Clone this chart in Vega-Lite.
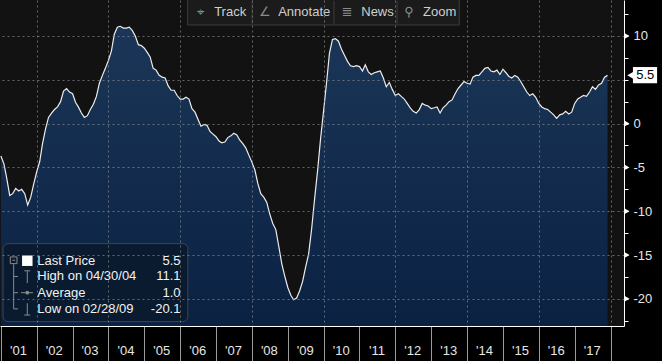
{
"$schema":"https://vega.github.io/schema/vega-lite/v6.json",
"width":624,"height":326,
"autosize":{"type":"none"},
"padding":{"left":0,"top":0,"right":38,"bottom":35},
"background":"#000000",
"config":{"view":{"fill":"#121212","stroke":null},"font":"Liberation Sans"},
"data":{"values":[
{"d":"2001-01","v":-3.7},{"d":"2001-02","v":-4.6},{"d":"2001-03","v":-6.2},{"d":"2001-04","v":-8.2},{"d":"2001-05","v":-8.0},{"d":"2001-06","v":-7.4},{"d":"2001-07","v":-7.7},{"d":"2001-08","v":-7.5},{"d":"2001-09","v":-8.0},{"d":"2001-10","v":-9.3},{"d":"2001-11","v":-8.4},{"d":"2001-12","v":-6.9},
{"d":"2002-01","v":-5.5},{"d":"2002-02","v":-4.3},{"d":"2002-03","v":-2.3},{"d":"2002-04","v":-0.6},{"d":"2002-05","v":0.7},{"d":"2002-06","v":1.2},{"d":"2002-07","v":1.6},{"d":"2002-08","v":1.9},{"d":"2002-09","v":2.5},{"d":"2002-10","v":3.7},{"d":"2002-11","v":4.0},{"d":"2002-12","v":3.6},
{"d":"2003-01","v":3.4},{"d":"2003-02","v":2.4},{"d":"2003-03","v":1.9},{"d":"2003-04","v":1.2},{"d":"2003-05","v":0.7},{"d":"2003-06","v":0.9},{"d":"2003-07","v":1.6},{"d":"2003-08","v":2.2},{"d":"2003-09","v":3.1},{"d":"2003-10","v":4.6},{"d":"2003-11","v":5.5},{"d":"2003-12","v":6.3},
{"d":"2004-01","v":7.2},{"d":"2004-02","v":8.3},{"d":"2004-03","v":10.2},{"d":"2004-04","v":11.0},{"d":"2004-05","v":11.1},{"d":"2004-06","v":10.9},{"d":"2004-07","v":10.9},{"d":"2004-08","v":11.0},{"d":"2004-09","v":10.6},{"d":"2004-10","v":10.0},{"d":"2004-11","v":9.0},{"d":"2004-12","v":8.9},
{"d":"2005-01","v":8.6},{"d":"2005-02","v":8.1},{"d":"2005-03","v":7.6},{"d":"2005-04","v":6.3},{"d":"2005-05","v":6.1},{"d":"2005-06","v":5.5},{"d":"2005-07","v":5.3},{"d":"2005-08","v":5.2},{"d":"2005-09","v":4.3},{"d":"2005-10","v":3.8},{"d":"2005-11","v":3.8},{"d":"2005-12","v":3.2},
{"d":"2006-01","v":2.8},{"d":"2006-02","v":2.8},{"d":"2006-03","v":3.0},{"d":"2006-04","v":2.8},{"d":"2006-05","v":1.7},{"d":"2006-06","v":1.3},{"d":"2006-07","v":0.5},{"d":"2006-08","v":-0.3},{"d":"2006-09","v":-0.1},{"d":"2006-10","v":-0.2},{"d":"2006-11","v":-0.9},{"d":"2006-12","v":-1.2},
{"d":"2007-01","v":-1.5},{"d":"2007-02","v":-2.0},{"d":"2007-03","v":-2.2},{"d":"2007-04","v":-2.1},{"d":"2007-05","v":-1.6},{"d":"2007-06","v":-1.4},{"d":"2007-07","v":-1.1},{"d":"2007-08","v":-1.3},{"d":"2007-09","v":-1.9},{"d":"2007-10","v":-2.3},{"d":"2007-11","v":-2.8},{"d":"2007-12","v":-3.6},
{"d":"2008-01","v":-4.4},{"d":"2008-02","v":-5.3},{"d":"2008-03","v":-6.8},{"d":"2008-04","v":-8.0},{"d":"2008-05","v":-8.4},{"d":"2008-06","v":-9.0},{"d":"2008-07","v":-10.3},{"d":"2008-08","v":-11.4},{"d":"2008-09","v":-12.1},{"d":"2008-10","v":-14.0},{"d":"2008-11","v":-16.0},{"d":"2008-12","v":-17.4},
{"d":"2009-01","v":-18.7},{"d":"2009-02","v":-19.6},{"d":"2009-03","v":-20.1},{"d":"2009-04","v":-19.9},{"d":"2009-05","v":-19.1},{"d":"2009-06","v":-18.0},{"d":"2009-07","v":-16.4},{"d":"2009-08","v":-14.9},{"d":"2009-09","v":-12.0},{"d":"2009-10","v":-8.6},{"d":"2009-11","v":-5.3},{"d":"2009-12","v":-1.7},
{"d":"2010-01","v":1.5},{"d":"2010-02","v":4.8},{"d":"2010-03","v":8.0},{"d":"2010-04","v":9.6},{"d":"2010-05","v":9.7},{"d":"2010-06","v":9.4},{"d":"2010-07","v":8.5},{"d":"2010-08","v":7.8},{"d":"2010-09","v":7.1},{"d":"2010-10","v":6.6},{"d":"2010-11","v":6.5},{"d":"2010-12","v":6.6},
{"d":"2011-01","v":6.5},{"d":"2011-02","v":6.0},{"d":"2011-03","v":6.7},{"d":"2011-04","v":5.9},{"d":"2011-05","v":5.6},{"d":"2011-06","v":5.8},{"d":"2011-07","v":5.9},{"d":"2011-08","v":6.0},{"d":"2011-09","v":5.2},{"d":"2011-10","v":4.2},{"d":"2011-11","v":4.7},{"d":"2011-12","v":3.9},
{"d":"2012-01","v":3.2},{"d":"2012-02","v":3.4},{"d":"2012-03","v":3.1},{"d":"2012-04","v":2.8},{"d":"2012-05","v":2.3},{"d":"2012-06","v":1.8},{"d":"2012-07","v":1.4},{"d":"2012-08","v":1.2},{"d":"2012-09","v":1.6},{"d":"2012-10","v":2.3},{"d":"2012-11","v":2.1},{"d":"2012-12","v":2.0},
{"d":"2013-01","v":1.7},{"d":"2013-02","v":1.8},{"d":"2013-03","v":1.9},{"d":"2013-04","v":1.2},{"d":"2013-05","v":1.8},{"d":"2013-06","v":2.1},{"d":"2013-07","v":2.5},{"d":"2013-08","v":2.7},{"d":"2013-09","v":3.4},{"d":"2013-10","v":4.0},{"d":"2013-11","v":4.4},{"d":"2013-12","v":4.8},
{"d":"2014-01","v":4.6},{"d":"2014-02","v":4.5},{"d":"2014-03","v":5.3},{"d":"2014-04","v":5.5},{"d":"2014-05","v":5.5},{"d":"2014-06","v":5.9},{"d":"2014-07","v":6.3},{"d":"2014-08","v":6.4},{"d":"2014-09","v":6.0},{"d":"2014-10","v":5.9},{"d":"2014-11","v":6.1},{"d":"2014-12","v":5.6},
{"d":"2015-01","v":6.2},{"d":"2015-02","v":5.8},{"d":"2015-03","v":5.4},{"d":"2015-04","v":5.2},{"d":"2015-05","v":5.5},{"d":"2015-06","v":5.3},{"d":"2015-07","v":4.8},{"d":"2015-08","v":4.2},{"d":"2015-09","v":3.6},{"d":"2015-10","v":3.2},{"d":"2015-11","v":3.4},{"d":"2015-12","v":3.0},
{"d":"2016-01","v":2.3},{"d":"2016-02","v":1.9},{"d":"2016-03","v":1.7},{"d":"2016-04","v":1.6},{"d":"2016-05","v":1.3},{"d":"2016-06","v":1.0},{"d":"2016-07","v":0.6},{"d":"2016-08","v":1.0},{"d":"2016-09","v":1.1},{"d":"2016-10","v":1.4},{"d":"2016-11","v":1.1},{"d":"2016-12","v":1.3},
{"d":"2017-01","v":2.3},{"d":"2017-02","v":2.8},{"d":"2017-03","v":3.0},{"d":"2017-04","v":3.2},{"d":"2017-05","v":3.1},{"d":"2017-06","v":3.6},{"d":"2017-07","v":4.2},{"d":"2017-08","v":3.9},{"d":"2017-09","v":4.4},{"d":"2017-10","v":4.6},{"d":"2017-11","v":5.3},{"d":"2017-12","v":5.5}
]},
"layer":[
{"mark":{"type":"area","color":{"gradient":"linear","x1":0,"y1":0,"x2":0,"y2":1,"stops":[{"offset":0,"color":"#1b3658"},{"offset":1,"color":"#0a2142"}]}},
 "encoding":{
  "x":{"field":"d","type":"temporal","scale":{"type":"utc","domain":[{"year":2000,"month":12,"date":23,"utc":true},{"year":2018,"month":5,"date":18,"utc":true}]},
   "axis":{"orient":"bottom","title":null,"tickCount":100,"values":[{"year":2001,"month":1,"date":1,"utc":true},{"year":2002,"month":1,"date":1,"utc":true},{"year":2003,"month":1,"date":1,"utc":true},{"year":2004,"month":1,"date":1,"utc":true},{"year":2005,"month":1,"date":1,"utc":true},{"year":2006,"month":1,"date":1,"utc":true},{"year":2007,"month":1,"date":1,"utc":true},{"year":2008,"month":1,"date":1,"utc":true},{"year":2009,"month":1,"date":1,"utc":true},{"year":2010,"month":1,"date":1,"utc":true},{"year":2011,"month":1,"date":1,"utc":true},{"year":2012,"month":1,"date":1,"utc":true},{"year":2013,"month":1,"date":1,"utc":true},{"year":2014,"month":1,"date":1,"utc":true},{"year":2015,"month":1,"date":1,"utc":true},{"year":2016,"month":1,"date":1,"utc":true},{"year":2017,"month":1,"date":1,"utc":true},{"year":2018,"month":1,"date":1,"utc":true}],
    "labelExpr":"utcyear(datum.value) < 2018 ? utcFormat(datum.value, \"'%y\") : ''",
    "labelOffset":17,"labelPadding":-17,"labelFlush":false,"labelOverlap":false,"labelBound":false,
    "tickSize":35,"tickColor":"#9a9a9a","domainColor":"#ffffff","labelColor":"#e6e6e6","labelFontSize":13,
    "grid":true,"gridColor":"#8a8a8a","gridDash":[2,3],"gridOpacity":{"condition":{"test":"utcyear(datum.value) % 2 == 0","value":0.7},"value":0},"zindex":1}},
  "y":{"field":"v","type":"quantitative","scale":{"domain":[-23.1,14.1],"nice":false,"zero":false},
   "axis":{"orient":"right","title":null,"tickCount":100,"values":[-22.5,-20,-17.5,-15,-12.5,-10,-7.5,-5,-2.5,0,2.5,5,7.5,10,12.5],
    "labelExpr":"datum.value % 5 == 0 && datum.value != 5 ? '' + datum.value : ''",
    "domainColor":"#ffffff","tickColor":"#ffffff","tickSize":4,"labelPadding":5,"labelColor":"#e6e6e6","labelFontSize":13,
    "grid":true,"gridColor":"#8a8a8a","gridDash":[2,3],"gridOpacity":{"condition":{"test":"datum.value % 5 == 0","value":0.7},"value":0},"zindex":1}},
  "y2":{"datum":-23.1}}},
{"mark":{"type":"line","color":"#ececec","strokeWidth":1.2},
 "encoding":{"x":{"field":"d","type":"temporal"},"y":{"field":"v","type":"quantitative"}}},
{"data":{"values":[{"v":-20},{"v":-15},{"v":-10},{"v":-5},{"v":0},{"v":10}]},
 "mark":{"type":"point","shape":"triangle-right","filled":true,"color":"#ffffff","size":30,"opacity":1},
 "encoding":{"x":{"datum":{"year":2018,"month":6,"date":19,"utc":true},"type":"temporal"},"y":{"field":"v","type":"quantitative"}}},
{"data":{"values":[{"a":"2018-08-17","b":"2019-04-20","y":6.45,"y2":4.6}]},
 "mark":{"type":"rect","color":"#ffffff"},
 "encoding":{"x":{"field":"a","type":"temporal"},"x2":{"field":"b"},"y":{"field":"y","type":"quantitative"},"y2":{"field":"y2"}}},
{"data":{"values":[{"v":5.5}]},
 "mark":{"type":"point","shape":"triangle-left","filled":true,"color":"#ffffff","size":45,"opacity":1},
 "encoding":{"x":{"datum":{"year":2018,"month":7,"date":20,"utc":true},"type":"temporal"},"y":{"field":"v","type":"quantitative"}}},
{"data":{"values":[{"v":5.5,"t":"5.5"}]},
 "mark":{"type":"text","color":"#000000","fontSize":13,"align":"center","baseline":"middle"},
 "encoding":{"x":{"datum":{"year":2018,"month":12,"date":20,"utc":true},"type":"temporal"},"y":{"field":"v","type":"quantitative"},"text":{"field":"t"}}},
{"data":{"values":[{"a":"2001-01-23","b":"2006-03-20","y":-13.7,"y2":-22.6}]},
 "mark":{"type":"rect","fill":"#0b1a2b","fillOpacity":0.85,"stroke":"#3a4654","strokeWidth":1,"cornerRadius":5},
 "encoding":{"x":{"field":"a","type":"temporal"},"x2":{"field":"b"},"y":{"field":"y","type":"quantitative"},"y2":{"field":"y2"}}},
{"data":{"values":[
  {"a":"2001-05-11","b":"2001-05-11","y":-16.05,"y2":-21.15},
  {"a":"2001-05-11","b":"2001-06-24","y":-17.45,"y2":-17.45},
  {"a":"2001-05-11","b":"2001-06-24","y":-19.3,"y2":-19.3},
  {"a":"2001-05-11","b":"2001-06-24","y":-21.15,"y2":-21.15},
  {"a":"2001-08-27","b":"2001-10-27","y":-16.8,"y2":-16.8},
  {"a":"2001-09-27","b":"2001-09-27","y":-16.8,"y2":-18.2},
  {"a":"2001-09-27","b":"2001-09-27","y":-20.5,"y2":-21.85},
  {"a":"2001-08-27","b":"2001-10-27","y":-21.85,"y2":-21.85},
  {"a":"2001-07-24","b":"2001-11-24","y":-19.3,"y2":-19.3},
  {"a":"2001-04-28","b":"2001-05-25","y":-15.6,"y2":-15.6}]},
 "mark":{"type":"rule","color":"#8a8a8a","strokeWidth":1},
 "encoding":{"x":{"field":"a","type":"temporal"},"x2":{"field":"b"},"y":{"field":"y","type":"quantitative"},"y2":{"field":"y2"}}},
{"data":{"values":[{"v":-15.6}]},
 "mark":{"type":"point","shape":"square","filled":false,"color":"#8a8a8a","size":45,"strokeWidth":1,"opacity":1},
 "encoding":{"x":{"datum":{"year":2001,"month":5,"date":11,"utc":true},"type":"temporal"},"y":{"field":"v","type":"quantitative"}}},
{"data":{"values":[{"v":-19.3}]},
 "mark":{"type":"point","shape":"circle","filled":true,"color":"#8a8a8a","size":14,"opacity":1},
 "encoding":{"x":{"datum":{"year":2001,"month":9,"date":27,"utc":true},"type":"temporal"},"y":{"field":"v","type":"quantitative"}}},
{"data":{"values":[{"v":-15.65}]},
 "mark":{"type":"point","shape":"square","filled":true,"color":"#ffffff","size":110,"opacity":1},
 "encoding":{"x":{"datum":{"year":2001,"month":9,"date":27,"utc":true},"type":"temporal"},"y":{"field":"v","type":"quantitative"}}},
{"data":{"values":[{"label":"Last Price","val":"5.5","v":-15.7},{"label":"High on 04/30/04","val":"11.1","v":-17.45},{"label":"Average","val":"1.0","v":-19.3},{"label":"Low on 02/28/09","val":"-20.1","v":-21.15}]},
 "layer":[
  {"mark":{"type":"text","color":"#f2f2f2","fontSize":13,"align":"left","baseline":"middle"},
   "encoding":{"x":{"datum":{"year":2002,"month":1,"date":7,"utc":true},"type":"temporal"},"y":{"field":"v","type":"quantitative"},"text":{"field":"label"}}},
  {"mark":{"type":"text","color":"#f2f2f2","fontSize":13,"align":"right","baseline":"middle"},
   "encoding":{"x":{"datum":{"year":2006,"month":1,"date":4,"utc":true},"type":"temporal"},"y":{"field":"v","type":"quantitative"},"text":{"field":"val"}}}
 ]},
{"data":{"values":[{"a":"2006-03-18","b":"2013-10-13","y":14.4,"y2":11.25}]},
 "mark":{"type":"rect","fill":"#1b1b1b","stroke":"#3c3c3c","strokeWidth":1},
 "encoding":{"x":{"field":"a","type":"temporal"},"x2":{"field":"b"},"y":{"field":"y","type":"quantitative"},"y2":{"field":"y2"}}},
{"data":{"values":[{"a":"2008-01-04","y":14.0,"y2":11.4},{"a":"2010-04-16","y":14.0,"y2":11.4},{"a":"2012-01-19","y":14.0,"y2":11.4}]},
 "mark":{"type":"rule","color":"#3c3c3c","strokeWidth":1},
 "encoding":{"x":{"field":"a","type":"temporal"},"y":{"field":"y","type":"quantitative"},"y2":{"field":"y2"}}},
{"data":{"values":[{"a":"2006-12-13","t":"Track","v":12.75},{"a":"2008-09-25","t":"Annotate","v":12.75},{"a":"2011-01-19","t":"News","v":12.75},{"a":"2012-10-10","t":"Zoom","v":12.75}]},
 "mark":{"type":"text","color":"#cfcfcf","fontSize":13,"align":"left","baseline":"middle"},
 "encoding":{"x":{"field":"a","type":"temporal"},"y":{"field":"v","type":"quantitative"},"text":{"field":"t"}}},
{"data":{"values":[{"a":"2006-07-22","t":"⌖","v":12.75},{"a":"2008-05-13","t":"∠","v":12.75},{"a":"2010-08-28","t":"≣","v":12.75},{"a":"2012-05-19","t":"⚲","v":12.75}]},
 "mark":{"type":"text","color":"#8a8a8a","fontSize":13,"font":"DejaVu Sans","align":"center","baseline":"middle"},
 "encoding":{"x":{"field":"a","type":"temporal"},"y":{"field":"v","type":"quantitative"},"text":{"field":"t"}}}
]
}
